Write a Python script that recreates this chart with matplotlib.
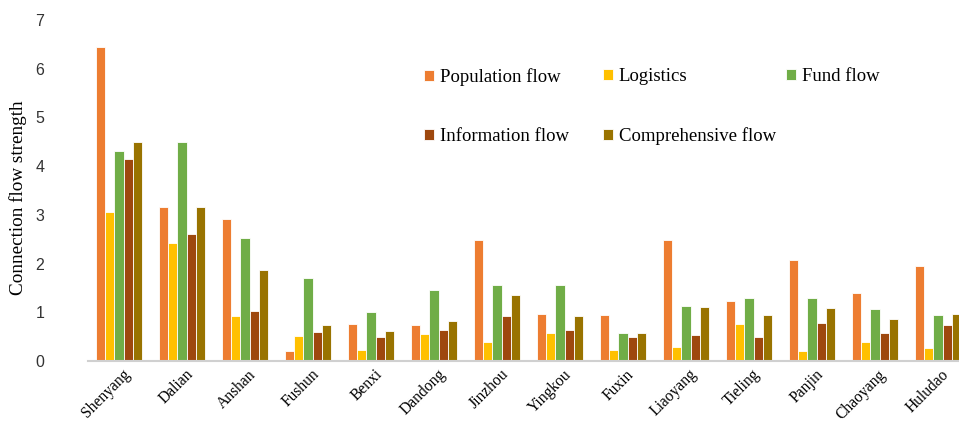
import numpy as np
import matplotlib
matplotlib.use("Agg")
import matplotlib.pyplot as plt

cities = ["Shenyang", "Dalian", "Anshan", "Fushun", "Benxi", "Dandong", "Jinzhou",
          "Yingkou", "Fuxin", "Liaoyang", "Tieling", "Panjin", "Chaoyang", "Huludao"]
population = [6.45, 3.17, 2.92, 0.20, 0.76, 0.74, 2.48, 0.97, 0.95, 2.49, 1.23, 2.07, 1.39, 1.96]
logistics = [3.06, 2.42, 0.92, 0.52, 0.22, 0.55, 0.40, 0.57, 0.22, 0.29, 0.76, 0.21, 0.40, 0.27]
fund = [4.31, 4.50, 2.52, 1.70, 1.00, 1.45, 1.56, 1.56, 0.57, 1.13, 1.30, 1.30, 1.06, 0.94]
information = [4.15, 2.60, 1.03, 0.60, 0.50, 0.64, 0.92, 0.64, 0.50, 0.53, 0.50, 0.78, 0.57, 0.73]
comprehensive = [4.50, 3.17, 1.86, 0.74, 0.62, 0.83, 1.35, 0.92, 0.57, 1.11, 0.94, 1.09, 0.86, 0.97]

series = [("Population flow", population, "#ED7D31"),
          ("Logistics", logistics, "#FFC000"),
          ("Fund flow", fund, "#70AD47"),
          ("Information flow", information, "#9E480E"),
          ("Comprehensive flow", comprehensive, "#997300")]

W, H = 959, 426
fig = plt.figure(figsize=(W / 100, H / 100), dpi=100)
ax_left, ax_bottom_px, ax_top_px = 87.5, 361, 20
ax = fig.add_axes([ax_left / W, (H - ax_bottom_px) / H, (959 - ax_left) / W, (ax_bottom_px - ax_top_px) / H])

x = np.arange(len(cities))
bw = 0.146
handles = []
for i, (name, vals, col) in enumerate(series):
    b = ax.bar(x + (i - 2) * bw, vals, width=bw, color=col, edgecolor="white",
               linewidth=0.6, label=name, zorder=2)
    handles.append(b)

ax.set_xlim(-0.5, (959 - 119) / 63)
ax.set_ylim(0, 7)
ax.set_yticks(range(0, 8))
ax.set_yticklabels([str(v) for v in range(0, 8)], fontfamily="Liberation Sans", fontsize=11.5, color="#333333")
ax.set_xticks(x + 0.05)
ax.set_xticklabels(cities, rotation=45, ha="right", rotation_mode="anchor",
                   fontfamily="Liberation Serif", fontsize=11.2)
ax.tick_params(axis="both", length=0)
ax.tick_params(axis="y", pad=31)
ax.tick_params(axis="x", pad=4)
for s in ["top", "right", "left"]:
    ax.spines[s].set_visible(False)
ax.spines["bottom"].set_color("#D0D0D0")
ax.spines["bottom"].set_linewidth(1.5)

fig.text(18 / W, 1 - 198 / H, "Connection flow strength", rotation=90, va="center", ha="center",
         fontfamily="Liberation Serif", fontsize=13.8)

# legend: three columns placed at their own positions
cols = [[0, 3], [1, 4], [2]]
col_x = [424, 603, 786]
for ci, (idx, cx) in enumerate(zip(cols, col_x)):
    leg = fig.legend([handles[k] for k in idx], [series[k][0] for k in idx],
                     loc="upper left", bbox_to_anchor=(cx / W, 1 - 68 / H),
                     frameon=False, prop={"family": "Liberation Serif", "size": 13.5},
                     handlelength=0.55, handleheight=0.55, handletextpad=0.3,
                     labelspacing=2.25, borderaxespad=0, borderpad=0)

fig.savefig("out.png", dpi=100)
